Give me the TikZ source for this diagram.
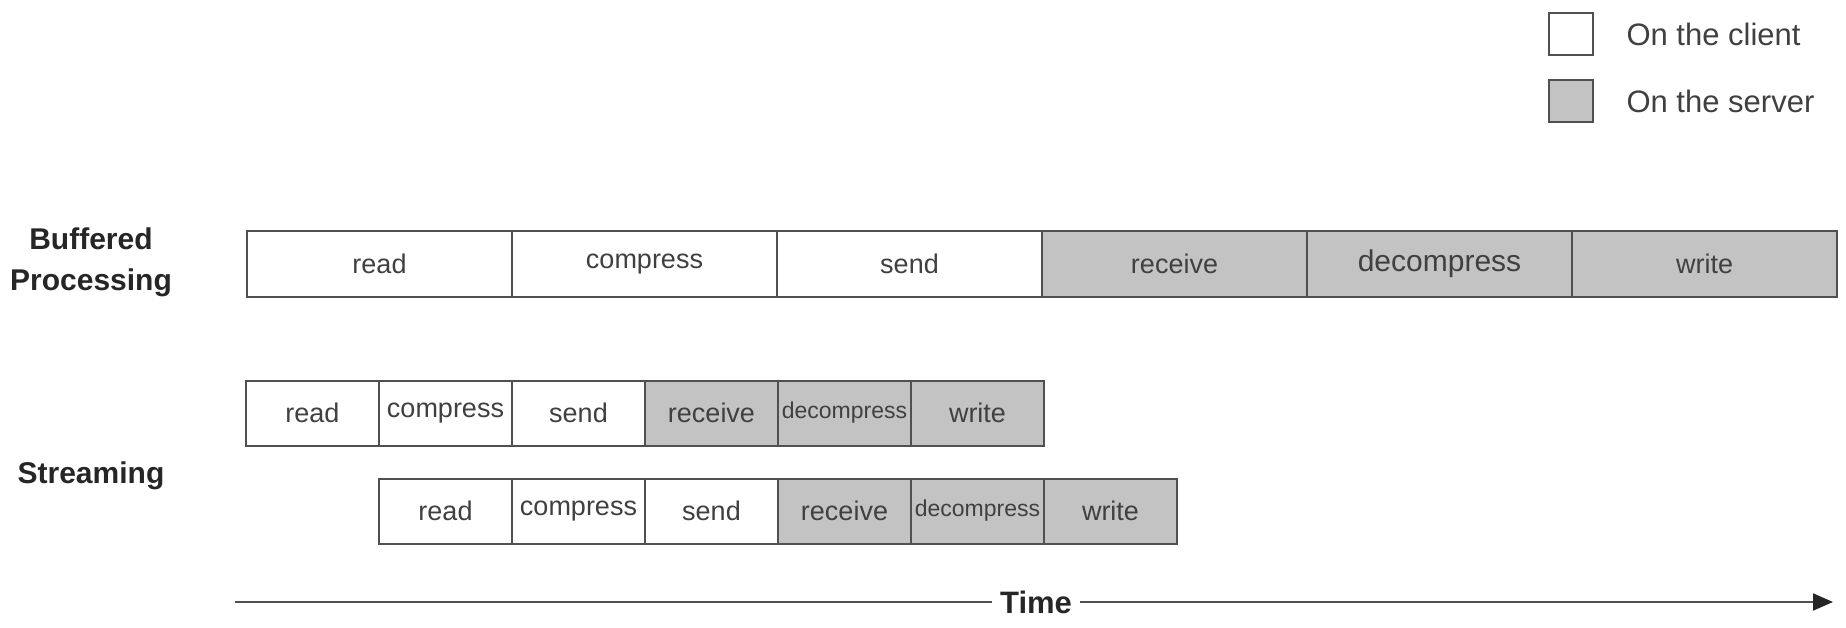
\documentclass[tikz,border=0pt]{standalone}
\usepackage{fontspec}
\setmainfont{Liberation Sans}
\usetikzlibrary{positioning,arrows.meta}
\definecolor{boxline}{HTML}{505050}
\definecolor{servergray}{HTML}{C3C3C3}
\definecolor{labeltext}{HTML}{404040}
\tikzset{cell/.style={draw=boxline,line width=2pt,minimum height=65pt,inner sep=0pt,outer sep=0pt,text=labeltext,font=\fontsize{27}{30}\selectfont},
  client/.style={cell,fill=white},
  server/.style={cell,fill=servergray},
  wide/.style={server,font=\fontsize{30}{33}\selectfont},
  narrow/.style={server,font=\fontsize{23}{26}\selectfont},
  key/.style={draw=boxline,line width=2pt,minimum width=44pt,minimum height=42pt,inner sep=0pt},
  keytext/.style={anchor=west,text=labeltext,font=\fontsize{31}{34}\selectfont},
  rowlabel/.style={align=center,text=black!85,font=\fontsize{30}{41}\selectfont\bfseries}}

\begin{document}
\begin{tikzpicture}[x=1pt,y=-1pt]
	\useasboundingbox (0,0) rectangle (1846,628);
	
	% legend
	\node[key,fill=white] (kclient) at (1571,34) {};
	\node[key,fill=servergray] (kserver) at (1571,101) {};
	\node[keytext] (tclient) at (1623,34) {On the client};
	\node[keytext] (tserver) at (1623,101) {On the server};
	
	\node[rowlabel] (buffered) at (91,262) {Buffered\\Processing};
	\node[rowlabel] (streaming) at (91,476) {Streaming};
	
	\foreach \i/\part/\kind in {0/read/client,1/compress/client,2/send/client,3/receive/server,4/decompress/wide,5/write/server}{
		\node[\kind,minimum width=265pt] (b\part) at (247+132.5+\i*265,264) {\part};
	}
	
	\foreach \r/\x/\y in {1/246/413,2/379/511}{
		\foreach \i/\part/\kind in {0/read/client,1/compress/client,2/send/client,3/receive/server,4/decompress/narrow,5/write/server}{
			\node[\kind,minimum width=133pt] (s\r\part) at (\x+66.5+\i*133,\y) {\part};
		}
	}
	
	% time axis
	\coordinate (tstart) at (235,602);
	\coordinate (tend) at (1833,602);
	\node[inner xsep=8pt,font=\fontsize{31}{34}\selectfont\bfseries,text=black!85] (time) at (1036,602) {Time};
	\draw[line width=2pt,draw=boxline] (tstart) -- (time.west);
	\draw[line width=2pt,draw=boxline,-{Triangle[length=20pt,width=17pt,color=black!85]}] (time.east) -- (tend);
\end{tikzpicture}
\end{document}
